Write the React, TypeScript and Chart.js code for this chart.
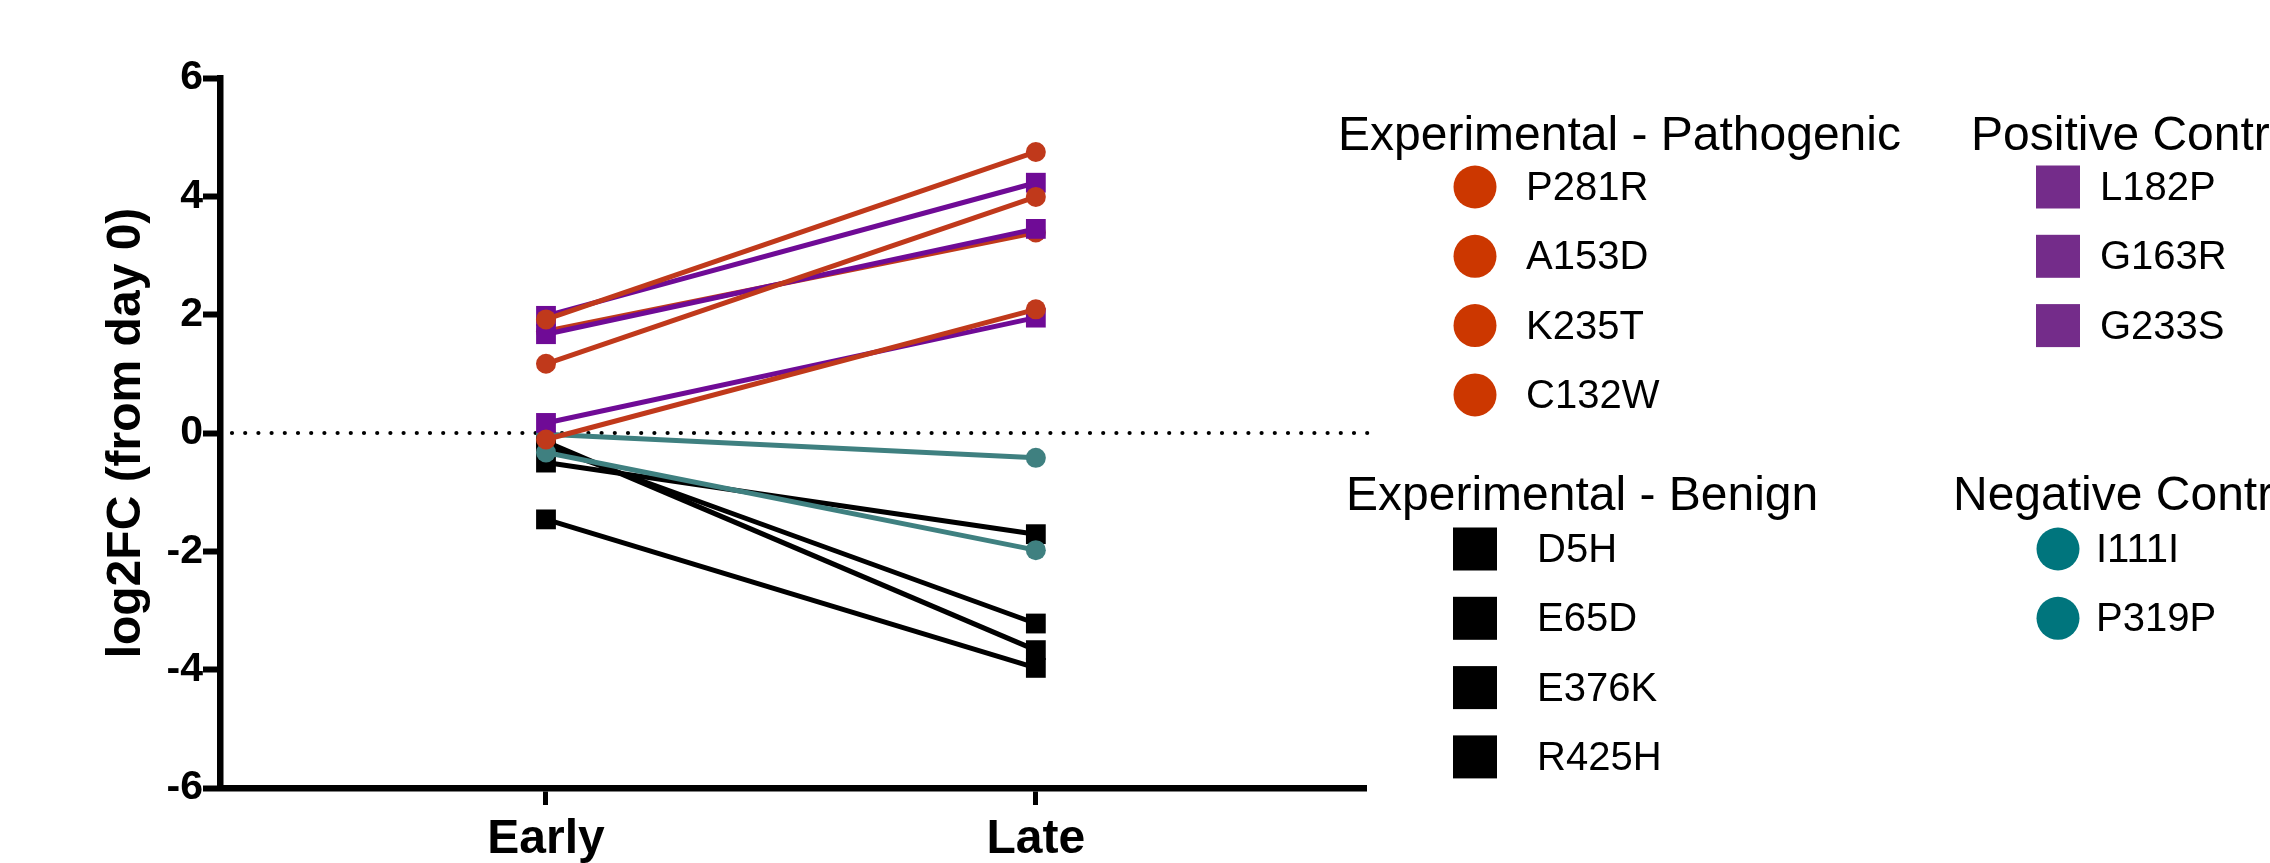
import { useEffect, useRef } from 'react';
import { Chart, registerables } from 'chart.js';

Chart.register(...registerables);

// ---- data ----
const timepoints = ['Early', 'Late'];
const timeValues = [0, 1];

const pathogenicNames = ['P281R', 'A153D', 'K235T', 'C132W'];
const pathogenicEarly = [1.92, 1.17, 1.72, -0.11];
const pathogenicLate = [4.75, 3.99, 3.39, 2.09];

const positiveNames = ['L182P', 'G163R', 'G233S'];
const positiveEarly = [1.98, 1.67, 0.17];
const positiveLate = [4.23, 3.45, 1.95];

const benignNames = ['D5H', 'E65D', 'E376K', 'R425H'];
const benignEarly = [-0.5, -0.15, -0.22, -1.46];
const benignLate = [-1.71, -3.67, -3.22, -3.97];

const negativeNames = ['I111I', 'P319P'];
const negativeEarly = [-0.02, -0.33];
const negativeLate = [-0.42, -1.98];

const groupTitles = ['Experimental - Pathogenic', 'Positive Control', 'Experimental - Benign', 'Negative Control'];

const yTicks = [-6, -4, -2, 0, 2, 4, 6];
const yTitle = 'log2FC (from day 0)';

// draw order: first = on top
const drawOrder = ['P281R', 'A153D', 'C132W', 'L182P', 'G163R', 'G233S', 'K235T', 'I111I', 'P319P', 'D5H', 'E65D', 'E376K', 'R425H'];

const FONT = '"Liberation Sans", Arial, Helvetica, sans-serif';

const groups = [
  { title: groupTitles[0], names: pathogenicNames, early: pathogenicEarly, late: pathogenicLate, line: '#C0391B', legend: '#CC3700', shape: 'circle' },
  { title: groupTitles[1], names: positiveNames, early: positiveEarly, late: positiveLate, line: '#6F0B96', legend: '#742C8A', shape: 'rect' },
  { title: groupTitles[2], names: benignNames, early: benignEarly, late: benignLate, line: '#000000', legend: '#000000', shape: 'rect' },
  { title: groupTitles[3], names: negativeNames, early: negativeEarly, late: negativeLate, line: '#3F8080', legend: '#00757D', shape: 'circle' },
];

const legendLayout = [
  { hx: 1338, hy: 150, mx: 1475, my: 187, tx: 1526 },
  { hx: 1971, hy: 150, mx: 2058, my: 187, tx: 2100 },
  { hx: 1346, hy: 510, mx: 1475, my: 549, tx: 1537 },
  { hx: 1953, hy: 510, mx: 2058, my: 549, tx: 2096 },
];
const legendStep = 69.3;

const zeroLinePlugin = {
  id: 'zeroLine',
  beforeDatasetsDraw(chart: any) {
    const { ctx, chartArea, scales } = chart;
    const y = scales.y.getPixelForValue(0);
    ctx.save();
    ctx.strokeStyle = '#000';
    ctx.lineWidth = 4.2;
    ctx.lineCap = 'round';
    ctx.setLineDash([0, 13.2]);
    ctx.beginPath();
    ctx.moveTo(chartArea.left + 12, y);
    ctx.lineTo(chartArea.right + 4, y);
    ctx.stroke();
    ctx.restore();
  },
};

const legendPlugin = {
  id: 'groupLegend',
  afterDraw(chart: any) {
    const ctx = chart.ctx;
    ctx.save();
    groups.forEach((g, gi) => {
      const L = legendLayout[gi];
      ctx.fillStyle = '#000';
      ctx.font = `48px ${FONT}`;
      ctx.textAlign = 'left';
      ctx.textBaseline = 'alphabetic';
      ctx.fillText(g.title, L.hx, L.hy);
      g.names.forEach((n, i) => {
        const cy = L.my + i * legendStep;
        ctx.fillStyle = g.legend;
        if (g.shape === 'circle') {
          ctx.beginPath();
          ctx.arc(L.mx, cy, 21.5, 0, Math.PI * 2);
          ctx.fill();
        } else {
          ctx.fillRect(L.mx - 22, cy - 21.5, 44, 43);
        }
        ctx.fillStyle = '#000';
        ctx.font = `40px ${FONT}`;
        ctx.textBaseline = 'middle';
        ctx.fillText(n, L.tx, cy + 2);
      });
    });
    ctx.restore();
  },
};

export default function App() {
  const ref = useRef<HTMLCanvasElement | null>(null);

  useEffect(() => {
    if (!ref.current) return;
    const all: any[] = [];
    groups.forEach((g) => {
      g.names.forEach((n, i) => {
        all.push({
          label: n,
          data: timeValues.map((t, k) => ({ x: t, y: k === 0 ? g.early[i] : g.late[i] })),
          borderColor: g.line,
          backgroundColor: g.line,
          pointBackgroundColor: g.line,
          pointBorderWidth: 0,
          borderWidth: 5,
          pointStyle: g.shape,
          pointRadius: g.shape === 'rect' ? 14 : 10,
          tension: 0,
          fill: false,
        });
      });
    });
    all.sort((a, b) => drawOrder.indexOf(a.label) - drawOrder.indexOf(b.label));

    const chart = new Chart(ref.current, {
      type: 'line',
      data: { datasets: all },
      options: {
        responsive: false,
        animation: false,
        devicePixelRatio: 1,
        layout: { padding: { left: 98, right: 904, top: 78, bottom: 0 } },
        plugins: {
          legend: { display: false },
          tooltip: { enabled: false },
          title: { display: false },
        },
        scales: {
          x: {
            type: 'linear',
            min: -0.6655,
            max: 1.674,
            afterBuildTicks: (s: any) => {
              s.ticks = timeValues.map((v) => ({ value: v }));
            },
            afterFit: (s: any) => {
              s.height = 75;
            },
            ticks: {
              autoSkip: false,
              maxRotation: 0,
              padding: 6,
              color: '#000',
              font: { family: FONT, size: 48, weight: 'bold' },
              callback: (v: any) => {
                const i = timeValues.indexOf(Number(v));
                return i >= 0 ? timepoints[i] : '';
              },
            },
            grid: { drawOnChartArea: false, drawTicks: true, tickLength: 17, tickWidth: 5, tickColor: '#000', color: '#000' },
            border: { display: true, width: 6.5, color: '#000' },
          },
          y: {
            type: 'linear',
            min: -6,
            max: 6,
            afterBuildTicks: (s: any) => {
              s.ticks = yTicks.map((v) => ({ value: v }));
            },
            afterFit: (s: any) => {
              s.width = 122;
            },
            ticks: {
              padding: 0,
              color: '#000',
              font: { family: FONT, size: 41, weight: 'bold' },
              callback: (v: any) => String(v),
            },
            grid: { drawOnChartArea: false, drawTicks: true, tickLength: 17, tickWidth: 6, tickColor: '#000', color: '#000' },
            border: { display: true, width: 6.5, color: '#000' },
            title: {
              display: true,
              text: yTitle,
              color: '#000',
              font: { family: FONT, size: 48, weight: 'bold' },
              padding: { top: 0, bottom: 0 },
            },
          },
        },
      } as any,
      plugins: [zeroLinePlugin, legendPlugin],
    });
    return () => chart.destroy();
  }, []);

  return (
    <div style={{ position: 'fixed', left: 0, top: 0, width: 2270, height: 863, background: '#fff' }}>
      <canvas ref={ref} width={2270} height={863} style={{ display: 'block', width: 2270, height: 863 }} />
    </div>
  );
}
